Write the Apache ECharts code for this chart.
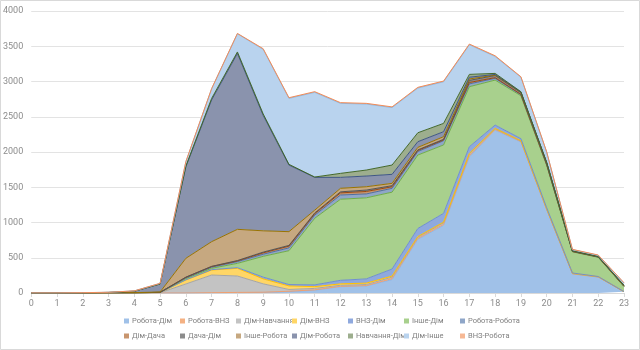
<!DOCTYPE html>
<html>
<head>
<meta charset="utf-8">
<script src="https://cdn.jsdelivr.net/npm/echarts@6/dist/echarts.min.js"></script>
<style>html,body{margin:0;padding:0;background:#fff}#c{width:640px;height:350px}</style>
</head>
<body>
<div id="c"></div>
<script>
var hours = ['0','1','2','3','4','5','6','7','8','9','10','11','12','13','14','15','16','17','18','19','20','21','22','23'];
var yTicks = [0, 500, 1000, 1500, 2000, 2500, 3000, 3500, 4000];

var seriesNames = ['Робота-Дім','Робота-ВНЗ','Дім-Навчання','Дім-ВНЗ','ВНЗ-Дім','Інше-Дім','Робота-Робота',
                   'Дім-Дача','Дача-Дім','Інше-Робота','Дім-Робота','Навчання-Дім','Дім-Інше','ВНЗ-Робота'];

var robotaDim    = [0,0,0,0,0,0,0,3,5,8,20,40,90,100,190,760,960,1930,2310,2140,1180,270,225,18];
var robotaVnz    = [0,0,0,0,0,0,0,2,3,3,5,5,5,5,15,15,15,20,10,10,5,3,2,0];
var dimNavch     = [0,0,0,0,0,4,128,250,233,119,25,20,15,15,20,15,20,20,10,5,5,3,2,0];
var dimVnz       = [0,0,0,0,0,3,56,71,109,70,50,25,20,20,15,10,10,10,5,5,5,3,2,0];
var vnzDim       = [0,0,0,0,0,0,3,5,10,25,20,25,50,60,100,115,125,95,47,30,15,5,3,2];
var insheDim     = [0,0,1,2,2,2,18,19,60,295,480,945,1150,1150,1090,1042,970,851,638,608,600,300,272,70];
var robotaRobota = [0,0,0,0,1,0,9,16,25,30,40,45,60,55,55,50,60,40,25,15,10,5,5,5];
var dimDacha     = [0,0,0,0,0,0,8,9,10,20,25,20,30,35,22,15,12,20,10,5,3,0,0,0];
var dachaDim     = [0,0,0,0,0,0,3,3,5,10,10,10,15,20,15,8,8,30,30,25,20,5,3,5];
var insheRobota  = [0,0,0,0,2,5,267,350,443,302,195,40,50,47,33,36,37,20,5,2,2,0,0,0];
var dimRobota    = [1,1,3,6,20,114,1298,2012,2496,1638,945,465,155,152,128,80,71,25,10,5,5,2,2,5];
var navchDim     = [0,0,0,0,0,0,10,20,20,20,10,5,57,85,132,127,118,40,15,5,3,2,2,5];
var dimInshe     = [0,0,1,2,5,9,60,135,258,915,935,1201,993,936,815,634,590,420,240,205,145,16,16,30];
var vnzRobota    = [0,0,0,0,0,0,5,5,5,10,10,10,10,10,10,10,10,10,10,7,5,5,5,6];

var seriesData = [robotaDim, robotaVnz, dimNavch, dimVnz, vnzDim, insheDim, robotaRobota,
                  dimDacha, dachaDim, insheRobota, dimRobota, navchDim, dimInshe, vnzRobota];

var fills = ['#A0C1E8','#F4B183','#C3C3C3','#FFD666','#8FA9DE','#A8D08D','#8FA6C8',
             '#C8956E','#8C8C8C','#C6A880','#8A93AD','#9DAE8E','#B9D3EE','#F6B894'];
var lines = ['#8EB4E3','#F0A070','#A5A5A5','#FFC000','#6F8FD0','#70AD47','#4F6F9F',
             '#9E480E','#555555','#997300','#3E5684','#43682B','#8EB8E0','#F08C5A'];

var FONT = 'Roboto, "Noto Sans", sans-serif';

var series = seriesNames.map(function (n, i) {
  return {
    name: n, type: 'line', stack: 'total', data: seriesData[i],
    symbol: 'none', smooth: false,
    lineStyle: { width: 1, color: lines[i] },
    itemStyle: { color: fills[i], borderColor: lines[i] },
    areaStyle: { color: fills[i], opacity: 1 },
    emphasis: { disabled: true }
  };
});

var legends = seriesNames.map(function (n, i) {
  return {
    data: [n], left: 124 + (i % 7) * 56, top: i < 7 ? 317 : 332,
    itemWidth: 5, itemHeight: 5, itemGap: 0, padding: 0, icon: 'rect',
    textStyle: { fontSize: 7.5, color: '#808080', fontFamily: FONT, padding: [0, 0, 0, -2] },
    selectedMode: false
  };
});

var chart = echarts.init(document.getElementById('c'), null, { renderer: 'canvas' });
chart.setOption({
  animation: false,
  backgroundColor: '#ffffff',
  grid: { left: 29, right: 16, top: 11, bottom: 57, containLabel: false },
  legend: legends,
  xAxis: {
    type: 'category', data: hours, boundaryGap: false,
    axisLine: { lineStyle: { color: '#D9D9D9' } },
    axisTick: { show: true, length: 4, lineStyle: { color: '#D9D9D9' } },
    axisLabel: { fontSize: 9, color: '#8C8C8C', margin: 6, fontFamily: FONT, interval: 0 }
  },
  yAxis: {
    type: 'value', min: yTicks[0], max: yTicks[yTicks.length - 1], interval: yTicks[1] - yTicks[0],
    axisLine: { show: false }, axisTick: { show: false },
    splitLine: { lineStyle: { color: '#E3E3E3', width: 1 } },
    axisLabel: { fontSize: 9, color: '#8C8C8C', margin: 8, fontFamily: FONT,
                 formatter: function (v) { return String(v); } }
  },
  graphic: [{
    type: 'rect', shape: { x: 0.5, y: 0.5, width: 639, height: 349 },
    style: { fill: 'none', stroke: '#D9D9D9', lineWidth: 1 }, silent: true, z: -1
  }],
  series: series
});
</script>
</body>
</html>
